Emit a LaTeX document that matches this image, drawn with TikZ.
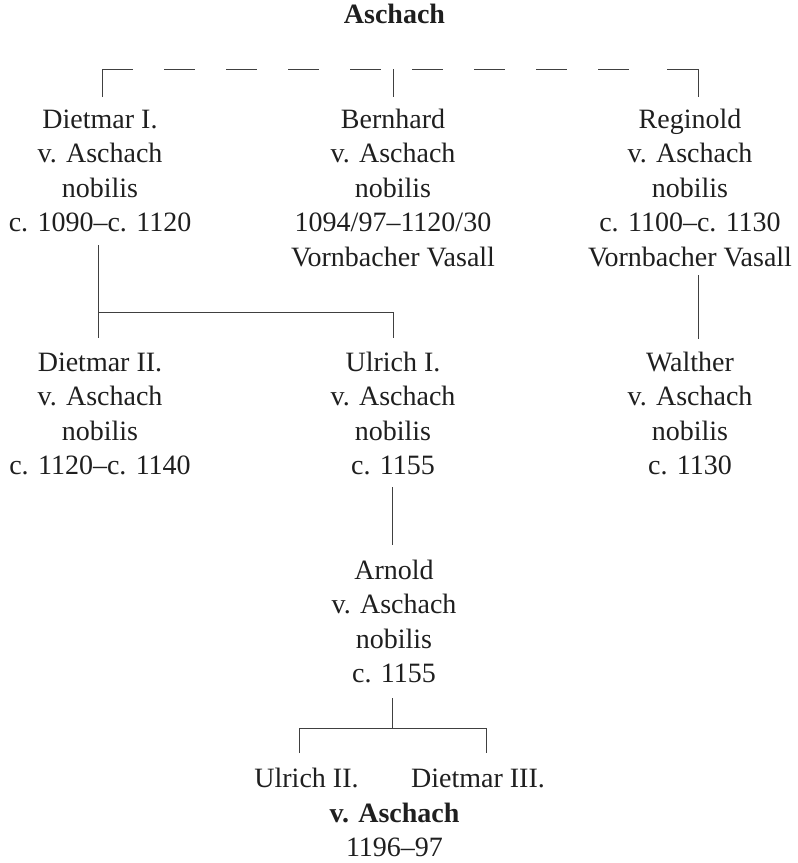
\documentclass[tikz,border=0pt]{standalone}
\usepackage{fontspec}
\setmainfont{Liberation Serif}
\begin{document}
\begin{tikzpicture}[x=1pt,y=-1pt,
  person/.style={align=center, anchor=base, inner sep=0pt, text=black!88,
                 font=\fontsize{28}{34.5}\selectfont},
  boldperson/.style={person, font=\bfseries\fontsize{28}{34.5}\selectfont},
  link/.style={draw=black!75, line width=0.9pt},
  dashlink/.style={link, dash pattern=on 31pt off 31pt}]
\useasboundingbox (0,0) rectangle (798,863);

% nodes (anchor = baseline of the last line)
\node[boldperson] (title) at (394.5,23) {Aschach};

\node[person] (dietmar1) at (100,231.5) {Dietmar I.\\ v. Aschach\\ nobilis\\ c. 1090--c. 1120};
\node[person] (bernhard) at (393,266) {Bernhard\\ v. Aschach\\ nobilis\\ 1094/97--1120/30\\ Vornbacher Vasall};
\node[person] (reginold) at (690,266) {Reginold\\ v. Aschach\\ nobilis\\ c. 1100--c. 1130\\ Vornbacher Vasall};

\node[person] (dietmar2) at (100,474.5) {Dietmar II.\\ v. Aschach\\ nobilis\\ c. 1120--c. 1140};
\node[person] (ulrich1) at (393,474.5) {Ulrich I.\\ v. Aschach\\ nobilis\\ c. 1155};
\node[person] (walther) at (690,474.5) {Walther\\ v. Aschach\\ nobilis\\ c. 1130};

\node[person] (arnold) at (394,682.5) {Arnold\\ v. Aschach\\ nobilis\\ c. 1155};

\node[person] (ulrich2) at (306.5,787) {Ulrich II.};
\node[person] (dietmar3) at (478,787) {Dietmar III.};
\node[person] (common) at (394.5,856.5) {\textbf{v. Aschach}\\ 1196--97};

% junction coordinates
\coordinate (topL) at (102,69);
\coordinate (topM) at (393,69);
\coordinate (topR) at (698,69);
\coordinate (dA) at (164,69);
\coordinate (dB) at (629,69);
\coordinate (dC) at (667,69);
\coordinate (d1top) at (98,245);
\coordinate (d1join) at (98,312);
\coordinate (d1end) at (98,338);
\coordinate (u1join) at (393,312);
\coordinate (u1end) at (393,338);
\coordinate (rtop) at (698,275);
\coordinate (rend) at (698,339);
\coordinate (u1bot) at (392,487);
\coordinate (artop) at (392,545);
\coordinate (arbot) at (392,698);
\coordinate (arjoin) at (392,728);
\coordinate (u2join) at (299,728);
\coordinate (u2end) at (299,753);
\coordinate (d3join) at (486,728);
\coordinate (d3end) at (486,753);

% top bracket
\draw[link] (topL |- 0,97) -- (topL) -- ++(31,0);
\draw[dashlink] (dA) -- (dB);
\draw[link] (dC) -- (topR) -- (topR |- 0,97);
\draw[link] (topM) -- (topM |- 0,97);

% Dietmar I. -> Dietmar II., Ulrich I.
\draw[link] (d1top) -- (d1end);
\draw[link] (d1join) -- (u1join) -- (u1end);

% Reginold -> Walther
\draw[link] (rtop) -- (rend);

% Ulrich I. -> Arnold
\draw[link] (u1bot) -- (artop);

% Arnold -> Ulrich II., Dietmar III.
\draw[link] (arbot) -- (arjoin);
\draw[link] (u2end) -- (u2join) -- (d3join) -- (d3end);
\end{tikzpicture}
\end{document}
